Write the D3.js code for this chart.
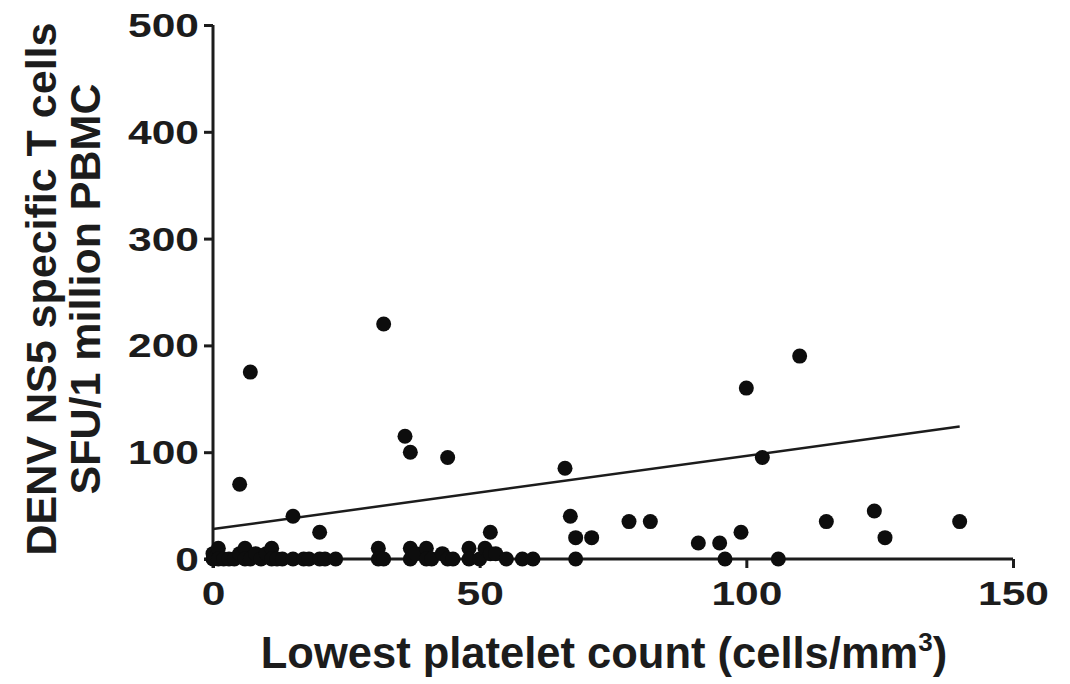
<!DOCTYPE html>
<html>
<head>
<meta charset="utf-8">
<script src="https://cdn.jsdelivr.net/npm/d3@7"></script>
<style>
  html, body { margin: 0; padding: 0; background: #fff; }
  svg { display: block; }
  text { font-family: "Liberation Sans", Arial, sans-serif; font-weight: bold; fill: #1c1c1c; }
</style>
</head>
<body>
<svg id="chart" width="1070" height="684"></svg>
<script>
// Lowest platelet count (x) vs SFU/1 million PBMC (y)
const plateletX = [
  0, 0, 1, 1, 2, 3, 4, 5, 6, 6, 7, 8, 9, 10, 11, 11, 12, 13, 15, 17, 18, 20, 21, 23,
  31, 31, 32,
  37, 37, 38, 40, 40, 41, 43, 44, 45, 48, 48, 50, 51, 52, 53, 55, 58, 60,
  5, 7, 15, 20, 32, 36, 37, 44, 52, 66, 67, 68, 71, 68, 78, 82, 91, 95, 96, 99,
  100, 103, 106, 110, 115, 124, 126, 140
];
const sfuY = [
  5, 0, 10, 0, 0, 0, 0, 5, 10, 0, 0, 5, 0, 5, 10, 0, 0, 0, 0, 0, 0, 0, 0, 0,
  10, 0, 0,
  10, 0, 5, 10, 0, 0, 5, 0, 0, 10, 0, 0, 10, 5, 5, 0, 0, 0,
  70, 175, 40, 25, 220, 115, 100, 95, 25, 85, 40, 20, 20, 0, 35, 35, 15, 15, 0, 25,
  160, 95, 0, 190, 35, 45, 20, 35
];
// Linear fit line
const fitX = [0, 140];
const fitY = [28, 124];

const xTicks = [0, 50, 100, 150];
const yTicks = [0, 100, 200, 300, 400, 500];
const xTitle = "Lowest platelet count (cells/mm";
const xTitleSup = "3";
const xTitleEnd = ")";
const yTitle1 = "DENV NS5 specific T cells";
const yTitle2 = "SFU/1 million PBMC";

const svg = d3.select("#chart");
const x = d3.scaleLinear().domain([0, 150]).range([213, 1013]);
const y = d3.scaleLinear().domain([0, 500]).range([559, 25]);

const ink = "#1c1c1c";

// Axes
const gx = svg.append("g").attr("transform", `translate(0,${y(0)})`)
  .call(d3.axisBottom(x).tickValues(xTicks).tickSize(9).tickSizeOuter(0).tickPadding(13).tickFormat(d3.format("d")));
const gy = svg.append("g").attr("transform", `translate(${x(0)},0)`)
  .call(d3.axisLeft(y).tickValues(yTicks).tickSize(9).tickSizeOuter(0).tickPadding(5).tickFormat(d3.format("d")));

[gx, gy].forEach(g => {
  g.select(".domain").attr("stroke", ink).attr("stroke-width", 3);
  g.selectAll(".tick line").attr("stroke", ink).attr("stroke-width", 3);
  g.selectAll(".tick text").attr("font-size", 34).attr("fill", ink)
    .attr("font-family", "'Liberation Sans', Arial, sans-serif").attr("font-weight", "bold");
});
gy.selectAll(".tick text").attr("dy", "0.34em");
gx.selectAll(".tick text").attr("dy", "0.72em");
// the reference tick labels are drawn a little wider than the font
svg.selectAll(".tick text").each(function () {
  const len = this.getComputedTextLength();
  d3.select(this).attr("textLength", len * 1.25).attr("lengthAdjust", "spacingAndGlyphs");
});
gx.select(".domain").attr("d", `M${x(0) - 9},0H${x(150)}`);
gy.select(".domain").attr("d", `M0,${y(500)}V${y(0) + 9}`);

// Fit line
svg.append("line")
  .attr("x1", x(fitX[0])).attr("y1", y(fitY[0]))
  .attr("x2", x(fitX[1])).attr("y2", y(fitY[1]))
  .attr("stroke", ink).attr("stroke-width", 2.5);

// Points
const pts = plateletX.map((v, i) => ({ px: v, py: sfuY[i] }));
svg.append("g").selectAll("circle").data(pts).join("circle")
  .attr("cx", d => x(d.px)).attr("cy", d => y(d.py))
  .attr("r", 7.5).attr("fill", "#0d0d0d");

// X title
const xt = svg.append("text").attr("x", 604).attr("y", 668)
  .attr("text-anchor", "middle").attr("font-size", 43.5);
xt.append("tspan").text(xTitle);
xt.append("tspan").attr("font-size", 26).attr("dy", -17).text(xTitleSup);
xt.append("tspan").attr("dy", 17).text(xTitleEnd);

// Y title
svg.append("text").attr("transform", "translate(56,289) rotate(-90)")
  .attr("text-anchor", "middle").attr("font-size", 43).text(yTitle1);
svg.append("text").attr("transform", "translate(100,289) rotate(-90)")
  .attr("text-anchor", "middle").attr("font-size", 43).text(yTitle2);
</script>
</body>
</html>
